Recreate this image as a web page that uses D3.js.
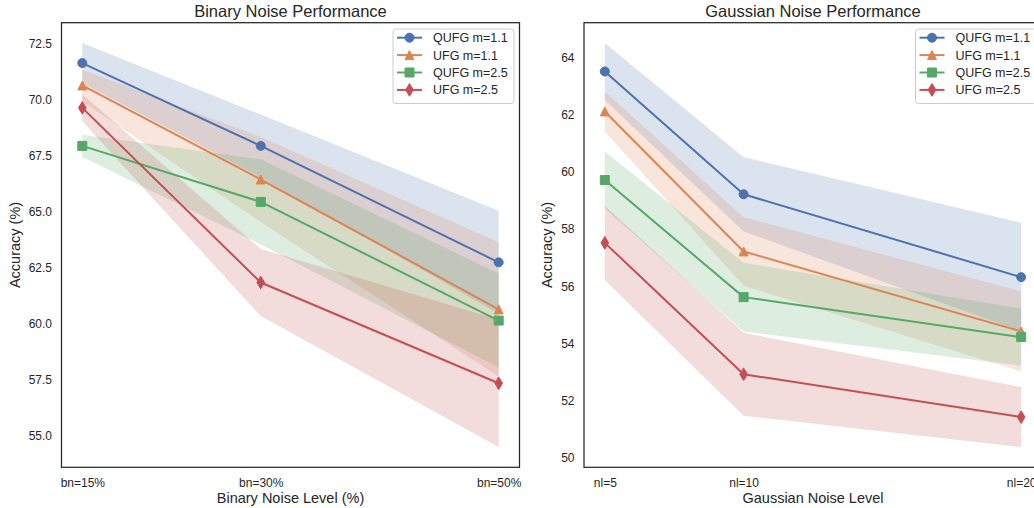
<!DOCTYPE html>
<html><head><meta charset="utf-8">
<script src="https://cdn.jsdelivr.net/npm/d3@7"></script>
<style>body{margin:0;background:#fff} svg{display:block}</style>
</head><body><svg id="chart" width="1034" height="508"></svg>
<script>
// ---------- data ----------
const seriesNames = ["QUFG m=1.1", "UFG m=1.1", "QUFG m=2.5", "UFG m=2.5"];
const seriesColors = ["#4C72B0", "#DD8452", "#55A868", "#C44E52"];
const seriesMarkers = ["circle", "triangle", "square", "thinDiamond"];

// Binary noise
const binaryLevels = [15, 30, 50];
const binaryTickLabels = ["bn=15%", "bn=30%", "bn=50%"];
const binaryYTicks = [55.0, 57.5, 60.0, 62.5, 65.0, 67.5, 70.0, 72.5];
const binaryQUFG11 = [71.6, 67.9, 62.7];
const binaryQUFG11Std = [0.9, 1.4, 2.3];
const binaryUFG11 = [70.6, 66.4, 60.6];
const binaryUFG11Std = [0.7, 1.9, 3.0];
const binaryQUFG25 = [67.9, 65.4, 60.1];
const binaryQUFG25Std = [0.5, 1.9, 2.1];
const binaryUFG25 = [69.6, 61.8, 57.3];
const binaryUFG25Std = [0.6, 1.5, 2.85];

// Gaussian noise
const gaussianLevels = [5, 10, 20];
const gaussianTickLabels = ["nl=5", "nl=10", "nl=20"];
const gaussianYTicks = [50, 52, 54, 56, 58, 60, 62, 64];
const gaussianQUFG11 = [63.5, 59.2, 56.3];
const gaussianQUFG11Std = [1.0, 1.3, 1.9];
const gaussianUFG11 = [62.1, 57.2, 54.4];
const gaussianUFG11Std = [0.7, 1.2, 1.4];
const gaussianQUFG25 = [59.7, 55.6, 54.2];
const gaussianQUFG25Std = [1.0, 1.2, 1.0];
const gaussianUFG25 = [57.5, 52.9, 51.4];
const gaussianUFG25Std = [1.3, 1.45, 1.05];

// ---------- layout ----------
const FONT = "'Liberation Sans', Arial, sans-serif";
const TXT = "#262626";
const plotTop = 22.7, plotBottom = 467.3;

const panels = [
  { x0: 61.5, x1: 519.5, levels: binaryLevels, tickLabels: binaryTickLabels,
    yTicks: binaryYTicks, yFmt: d3.format(".1f"),
    title: "Binary Noise Performance", xlabel: "Binary Noise Level (%)",
    means: [binaryQUFG11, binaryUFG11, binaryQUFG25, binaryUFG25],
    stds: [binaryQUFG11Std, binaryUFG11Std, binaryQUFG25Std, binaryUFG25Std] },
  { x0: 584, x1: 1042, levels: gaussianLevels, tickLabels: gaussianTickLabels,
    yTicks: gaussianYTicks, yFmt: d3.format("d"),
    title: "Gaussian Noise Performance", xlabel: "Gaussian Noise Level",
    means: [gaussianQUFG11, gaussianUFG11, gaussianQUFG25, gaussianUFG25],
    stds: [gaussianQUFG11Std, gaussianUFG11Std, gaussianQUFG25Std, gaussianUFG25Std] }
];

const svg = d3.select("#chart");
const MS = 9;

function markerPath(type) {
  const h = MS / 2;
  if (type === "circle") { const p = d3.path(); p.arc(0, 0, h, 0, 2 * Math.PI); p.closePath(); return p.toString(); }
  if (type === "triangle") return `M0,${-h}L${-h},${h}L${h},${h}Z`;
  if (type === "square") return `M${-h},${-h}H${h}V${h}H${-h}Z`;
  if (type === "thinDiamond") { const dh = MS * Math.SQRT1_2, dw = dh * 0.6; return `M0,${-dh}L${dw},0L0,${dh}L${-dw},0Z`; }
}

panels.forEach(P => {
  const g = svg.append("g");
  const ext = d3.extent(P.levels);
  const xr = ext[1] - ext[0];
  const x = d3.scaleLinear().domain([ext[0] - 0.05 * xr, ext[1] + 0.05 * xr]).range([P.x0, P.x1]);
  let lo = Infinity, hi = -Infinity;
  P.means.forEach((m, i) => m.forEach((v, j) => { lo = Math.min(lo, v - P.stds[i][j]); hi = Math.max(hi, v + P.stds[i][j]); }));
  const yr = hi - lo;
  const y = d3.scaleLinear().domain([lo - 0.05 * yr, hi + 0.05 * yr]).range([plotBottom, plotTop]);

  // bands
  P.means.forEach((m, i) => {
    const pts = m.map((v, j) => ({ x: P.levels[j], lo: v - P.stds[i][j], hi: v + P.stds[i][j] }));
    g.append("path").datum(pts)
      .attr("d", d3.area().x(d => x(d.x)).y0(d => y(d.lo)).y1(d => y(d.hi)))
      .attr("fill", seriesColors[i]).attr("fill-opacity", 0.2).attr("stroke", "none");
  });
  // lines + markers
  P.means.forEach((m, i) => {
    const pts = m.map((v, j) => ({ x: P.levels[j], v }));
    g.append("path").datum(pts)
      .attr("d", d3.line().x(d => x(d.x)).y(d => y(d.v)))
      .attr("fill", "none").attr("stroke", seriesColors[i]).attr("stroke-width", 2)
      .attr("stroke-linejoin", "round").attr("stroke-linecap", "butt");
    g.selectAll(null).data(pts).enter().append("path")
      .attr("d", markerPath(seriesMarkers[i]))
      .attr("transform", d => `translate(${x(d.x)},${y(d.v)})`)
      .attr("fill", seriesColors[i]).attr("stroke", seriesColors[i]).attr("stroke-width", 1);
  });

  // axes
  const yAxis = g.append("g").attr("transform", `translate(${P.x0},0)`)
    .call(d3.axisLeft(y).tickValues(P.yTicks).tickFormat(P.yFmt).tickSize(0).tickPadding(9.5));
  yAxis.select(".domain").remove();
  yAxis.selectAll("text").attr("dy", "0.36em").attr("font-family", FONT).attr("font-size", 12).attr("fill", TXT);

  const xAxis = g.append("g").attr("transform", `translate(0,${plotBottom})`)
    .call(d3.axisBottom(x).tickValues(P.levels).tickFormat((d, i) => P.tickLabels[i]).tickSize(0).tickPadding(10.7));
  xAxis.select(".domain").remove();
  xAxis.selectAll("text").attr("font-family", FONT).attr("font-size", 12).attr("fill", TXT);

  let maxW = 0;
  yAxis.selectAll("text").each(function () { maxW = Math.max(maxW, this.getComputedTextLength()); });

  // spines
  g.append("rect").attr("x", P.x0).attr("y", plotTop).attr("width", P.x1 - P.x0).attr("height", plotBottom - plotTop)
    .attr("fill", "none").attr("stroke", "#262626").attr("stroke-width", 1.25);

  // titles/labels
  const cx = (P.x0 + P.x1) / 2;
  g.append("text").attr("x", cx).attr("y", 16.8).attr("text-anchor", "middle")
    .attr("font-family", FONT).attr("font-size", 16.5).attr("fill", TXT).text(P.title);
  g.append("text").attr("x", cx).attr("y", 503.1).attr("text-anchor", "middle")
    .attr("font-family", FONT).attr("font-size", 14.5).attr("fill", TXT).text(P.xlabel);
  const lx = P.x0 - 9.5 - maxW - 9;
  g.append("text").attr("transform", `translate(${lx},${(plotTop + plotBottom) / 2}) rotate(-90)`)
    .attr("text-anchor", "middle").attr("font-family", FONT).attr("font-size", 14.5).attr("fill", TXT)
    .text("Accuracy (%)");

  // legend
  const bw = 121, bh = 74.5;
  const bx = P.x1 - 5.5 - bw, by = plotTop + 6.3;
  const lg = g.append("g");
  lg.append("rect").attr("x", bx).attr("y", by).attr("width", bw).attr("height", bh).attr("rx", 3)
    .attr("fill", "#fff").attr("fill-opacity", 0.8).attr("stroke", "#cccccc").attr("stroke-width", 1);
  seriesNames.forEach((name, i) => {
    const ry = by + 8.7 + i * 17.4;
    lg.append("line").attr("x1", bx + 4).attr("x2", bx + 29).attr("y1", ry).attr("y2", ry)
      .attr("stroke", seriesColors[i]).attr("stroke-width", 2);
    lg.append("path").attr("d", markerPath(seriesMarkers[i])).attr("transform", `translate(${bx + 16.5},${ry})`)
      .attr("fill", seriesColors[i]).attr("stroke", seriesColors[i]).attr("stroke-width", 1);
    lg.append("text").attr("x", bx + 40).attr("y", ry).attr("dy", "0.36em")
      .attr("font-family", FONT).attr("font-size", 12.5).attr("fill", TXT).text(name);
  });
});
</script></body></html>
